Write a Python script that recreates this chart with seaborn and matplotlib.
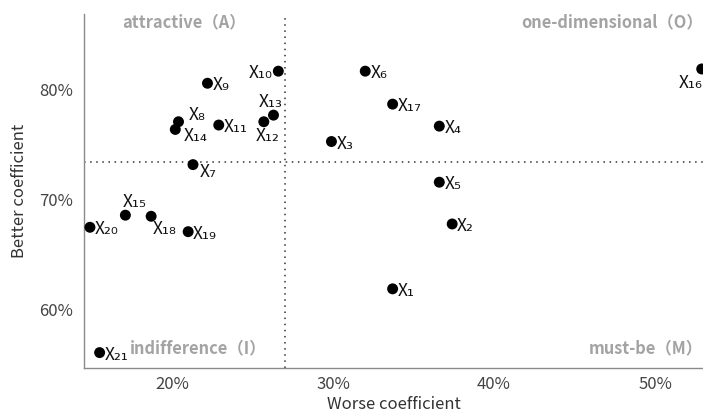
import numpy as np
import pandas as pd
import matplotlib
matplotlib.use("Agg")
import matplotlib.pyplot as plt
from matplotlib.ticker import FuncFormatter
import seaborn as sns

names = ["X₁", "X₂", "X₃", "X₄", "X₅", "X₆", "X₇", "X₈", "X₉", "X₁₀", "X₁₁",
         "X₁₂", "X₁₃", "X₁₄", "X₁₅", "X₁₆", "X₁₇", "X₁₈", "X₁₉", "X₂₀", "X₂₁"]
worse = [33.7, 37.4, 29.9, 36.6, 36.6, 32.0, 21.3, 20.4, 22.2, 26.6, 22.9,
         25.7, 26.3, 20.2, 17.1, 52.9, 33.7, 18.7, 21.0, 14.9, 15.5]
better = [61.9, 67.8, 75.3, 76.7, 71.6, 81.7, 73.2, 77.1, 80.6, 81.7, 76.8,
          77.1, 77.7, 76.4, 68.6, 81.9, 78.7, 68.5, 67.1, 67.5, 56.1]
worse_mean = 27.0
better_mean = 73.4
x_ticks = [20, 30, 40, 50]
y_ticks = [60, 70, 80]
quadrants = ["attractive（A）", "one-dimensional（O）", "indifference（I）", "must-be（M）"]

df = pd.DataFrame({"name": names, "worse": worse, "better": better})

sns.set_theme(style="white")
plt.rcParams["font.family"] = ["Noto Sans CJK SC", "DejaVu Sans"]

fig = plt.figure(figsize=(7.03, 4.19), dpi=100)
ax = fig.add_axes([84 / 703, 1 - 368 / 419, 1 - 84 / 703, (368 - 14) / 419])

sns.scatterplot(data=df, x="worse", y="better", color="black", s=62,
                edgecolor="none", ax=ax, clip_on=False, zorder=3)

ax.set_xlim(14.53, 52.98)
ax.set_ylim(54.7, 86.9)

ax.axvline(worse_mean, color="#333333", lw=1.1, dashes=(1, 3), zorder=1)
ax.axhline(better_mean, color="#333333", lw=1.1, dashes=(1, 3), zorder=1)

# label offsets in pixels (dx, dy) and alignment
special = {
    "X₁₀": (-6, -2, "right"),
    "X₁₃": (-3, 13, "center"),
    "X₁₂": (4, -14, "center"),
    "X₈": (19, 7, "center"),
    "X₁₄": (20, -7, "center"),
    "X₇": (7, -7, "left"),
    "X₁₅": (9, 13, "center"),
    "X₁₈": (14, -13, "center"),
    "X₁₆": (1, -14, "right"),
    "X₂₁": (5, -2, "left"),
}
for n, xv, yv in zip(names, worse, better):
    dx, dy, ha = special.get(n, (5, -2, "left"))
    ax.annotate(n, (xv, yv), xytext=(dx, dy), textcoords="offset pixels",
                ha=ha, va="center", fontsize=12.5, color="#111111",
                annotation_clip=False)

qc = "#a3a3a3"
qfs = 11.8
ax.text(0.162, 0.977, quadrants[0], transform=ax.transAxes, ha="center", va="center",
        fontsize=qfs, fontweight="bold", color=qc)
ax.text(1.0, 0.977, quadrants[1], transform=ax.transAxes, ha="right", va="center",
        fontsize=qfs, fontweight="bold", color=qc)
ax.text(0.184, 0.056, quadrants[2], transform=ax.transAxes, ha="center", va="center",
        fontsize=qfs, fontweight="bold", color=qc)
ax.text(1.0, 0.056, quadrants[3], transform=ax.transAxes, ha="right", va="center",
        fontsize=qfs, fontweight="bold", color=qc)

ax.set_xticks(x_ticks)
ax.set_yticks(y_ticks)
ax.xaxis.set_major_formatter(FuncFormatter(lambda v, p: f"{v:.0f}%"))
ax.yaxis.set_major_formatter(FuncFormatter(lambda v, p: f"{v:.0f}%"))
ax.tick_params(axis="both", length=0, labelsize=12, labelcolor="#444444")
ax.tick_params(axis="x", pad=6)
ax.tick_params(axis="y", pad=8)

ax.set_xlabel("Worse coefficient", fontsize=12, color="#333333", labelpad=2)
ax.set_ylabel("Better coefficient", fontsize=12, color="#333333", labelpad=8)

for s in ["top", "right"]:
    ax.spines[s].set_visible(False)
for s in ["left", "bottom"]:
    ax.spines[s].set_color("#8a8a8a")
    ax.spines[s].set_linewidth(1.0)

fig.savefig("out.png", dpi=100)
